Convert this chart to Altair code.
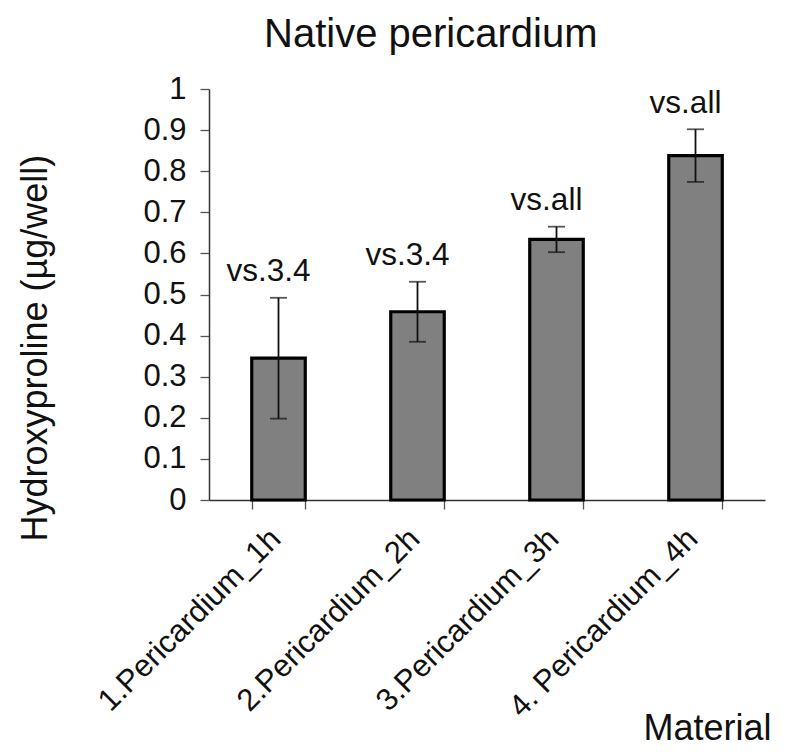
import altair as alt
import pandas as pd

categories = ["1.Pericardium_1h", "2.Pericardium_2h", "3.Pericardium_3h", "4. Pericardium_4h"]
means = [0.345, 0.458, 0.634, 0.838]
sds = [0.147, 0.073, 0.031, 0.064]
labels = ["vs.3.4", "vs.3.4", "vs.all", "vs.all"]
y_ticks = [0, 0.1, 0.2, 0.3, 0.4, 0.5, 0.6, 0.7, 0.8, 0.9, 1.0]

df = pd.DataFrame({"Material": categories, "mean": means, "sd": sds, "label": labels})

FONT = "Liberation Sans"
INK = "#111111"

x_enc = alt.X(
    "Material:N",
    sort=categories,
    scale=alt.Scale(paddingInner=0.615, paddingOuter=0.3075),
    axis=alt.Axis(
        title="Material",
        titleFont=FONT, titleFontSize=36, titleFontWeight="normal", titleColor=INK,
        titleAlign="right", titleBaseline="alphabetic", titleX=562, titleY=239,
        labelAngle=-45, labelAlign="right", labelBaseline="middle",
        labelFont=FONT, labelFontSize=31, labelColor=INK, labelLimit=400,
        labelPadding=25, labelOffset=-3, tickBand="extent", tickSize=9,
        tickColor="#555555", tickWidth=1.3, domainColor="#333333", domainWidth=1.5,
    ),
)

y_axis = alt.Axis(
    values=y_ticks, format="~g", grid=False,
    title="Hydroxyproline (µg/well)",
    titleFont=FONT, titleFontSize=36, titleFontWeight="normal", titleColor=INK,
    titleAlign="center", titleBaseline="alphabetic", titleX=-162.6, titleY=258.7,
    labelFont=FONT, labelFontSize=31, labelColor=INK, labelPadding=14,
    tickSize=9, tickColor="#555555", tickWidth=1.3,
    domainColor="#333333", domainWidth=1.5,
)

base = alt.Chart(df).transform_calculate(
    lo="datum.mean - datum.sd", hi="datum.mean + datum.sd"
)

bars = base.mark_bar(fill="#808080", stroke="#000000", strokeWidth=3.2).encode(
    x=x_enc,
    y=alt.Y("mean:Q", scale=alt.Scale(domain=[0, 1]), axis=y_axis),
)

err = base.mark_rule(color=INK, strokeWidth=1.8).encode(
    x=alt.X("Material:N", sort=categories),
    y=alt.Y("lo:Q"),
    y2="hi:Q",
)
cap_lo = base.mark_tick(color=INK, thickness=1.8, size=17).encode(
    x=alt.X("Material:N", sort=categories), y="lo:Q"
)
cap_hi = base.mark_tick(color=INK, thickness=1.8, size=17).encode(
    x=alt.X("Material:N", sort=categories), y="hi:Q"
)
txt = base.mark_text(
    font=FONT, fontSize=31.5, color=INK, baseline="alphabetic", dy=-16.5, dx=-10
).encode(
    x=alt.X("Material:N", sort=categories), y="hi:Q", text="label:N"
)

chart = alt.layer(bars, err, cap_lo, cap_hi, txt).properties(
    width=556,
    height=411,
    title=alt.Title(
        "Native pericardium", font=FONT, fontSize=40, fontWeight="normal",
        color=INK, anchor="start", dx=55, dy=-14, frame="group",
    ),
    autosize=alt.AutoSizeParams(type="none"),
    padding={"left": 201, "top": 81, "right": 20, "bottom": 248},
    background="white",
).configure_view(stroke=None)

chart.save("out.html", embed_options={"renderer": "svg", "actions": False})
